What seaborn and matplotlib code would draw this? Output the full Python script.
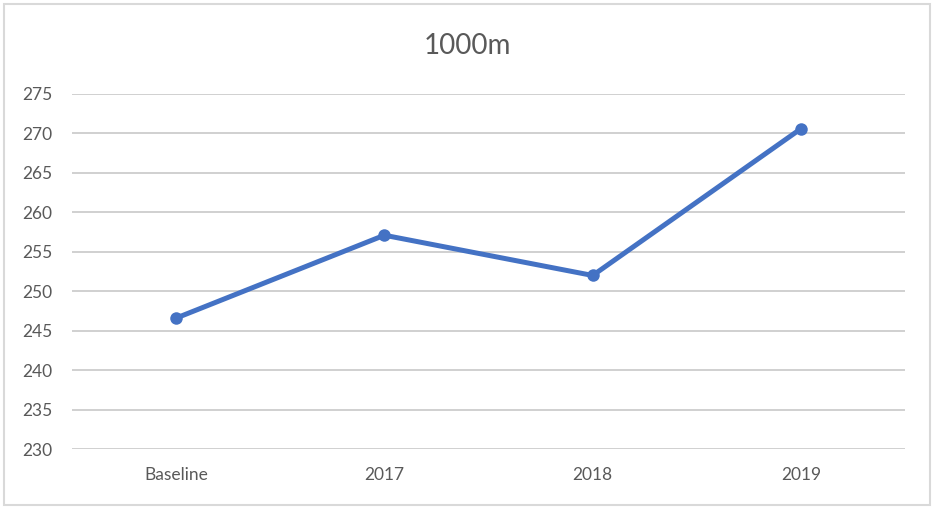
import numpy as np
import pandas as pd
import matplotlib
matplotlib.use("Agg")
import matplotlib.pyplot as plt
from matplotlib.patches import Rectangle
import seaborn as sns

categories = ["Baseline", "2017", "2018", "2019"]
times = [246.6, 257.1, 252.0, 270.6]
y_ticks = [230, 235, 240, 245, 250, 255, 260, 265, 270, 275]
title = "1000m"

sns.set_theme(style="white")
plt.rcParams["font.family"] = ["Lato", "DejaVu Sans"]

df = pd.DataFrame({"period": categories, "time": times})

fig = plt.figure(figsize=(9.35, 5.08), dpi=100)
ax = fig.add_axes([0.077, 0.116, 0.891, 0.699])

sns.lineplot(data=df, x="period", y="time", sort=False, color="#4472C4",
             linewidth=3.6, marker="o", markersize=9, markeredgewidth=0, ax=ax)

ax.set_xlim(-0.5, len(categories) - 0.5)
ax.set_ylim(y_ticks[0], y_ticks[-1])
ax.set_yticks(y_ticks)
ax.yaxis.grid(True, color="#d0d0d0", linewidth=1.4)
ax.set_axisbelow(True)
for s in ax.spines.values():
    s.set_visible(False)
ax.set_xlabel("")
ax.set_ylabel("")
ax.tick_params(axis="y", length=0, pad=14, labelsize=12.5, labelcolor="#595959")
ax.tick_params(axis="x", length=0, pad=13, labelsize=12.5, labelcolor="#595959")

fig.text(0.5, 0.909, title, ha="center", va="center", fontsize=20, color="#595959")

# thin chart border like the spreadsheet chart area
fig.patches.append(Rectangle((0.004, 0.006), 0.991, 0.986, transform=fig.transFigure,
                             fill=False, edgecolor="#d9d9d9", linewidth=1.5))

fig.savefig("out.png", dpi=100)
